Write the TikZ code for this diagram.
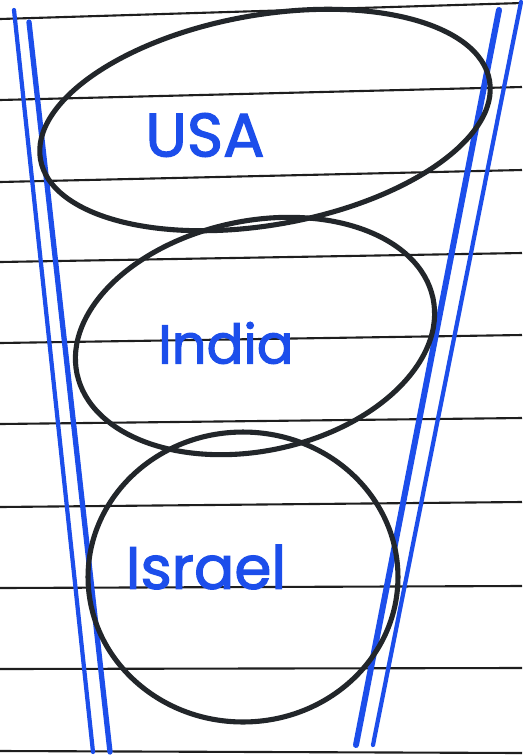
\documentclass[tikz,border=0pt]{standalone}
\usepackage{fontspec}
\newfontfamily\hand[FakeBold=2]{Poppins}
\usetikzlibrary{shapes.geometric}
\definecolor{ink}{HTML}{1C4EEB}
\definecolor{rulecol}{HTML}{1E1E1E}
\definecolor{pen}{HTML}{22262A}
\begin{document}
\begin{tikzpicture}[x=0.02cm,y=-0.02cm,
  ruled/.style={draw=rulecol, line width=1.2pt},
  blueline/.style={draw=ink, line cap=round},
  bubble/.style={draw=pen, line width=2.9pt, ellipse, inner sep=0pt},
  lbl/.style={text=ink, inner sep=0pt, font=\hand\fontsize{#1}{#1}\selectfont}
]
\fill[white] (0,0) rectangle (522,755);
\useasboundingbox (0,0) rectangle (522,755);
% ruled lines
\foreach \yl/\yr [count=\i] in {19/3,100/87,182/170,262/253,343/335,424/418,507/502,588/586,669/668,751/753}{
  \coordinate (rl\i) at (0,\yl);
  \coordinate (rr\i) at (522,\yr);
  \draw[ruled] (rl\i) -- (rr\i);
}
% blue funnel lines
\coordinate (lo1) at (14,10);  \coordinate (lo2) at (93,752);
\coordinate (li1) at (29,22);  \coordinate (li2) at (110,752);
\coordinate (ri1) at (499,10); \coordinate (ri2) at (356,745);
\coordinate (ro1) at (521,2);  \coordinate (ro2) at (373,745);
\draw[blueline, line width=2.4pt] (lo1) -- (lo2);
\draw[blueline, line width=3pt] (li1) -- (li2);
\draw[blueline, line width=3.4pt] (ri1) -- (ri2);
\draw[blueline, line width=2.4pt] (ro1) -- (ro2);
% ellipses
\node[bubble, minimum width=9.12cm, minimum height=4.2cm, rotate=10] (usa) at (265,120) {};
\node[bubble, minimum width=7.28cm, minimum height=4.6cm, rotate=12] (india) at (255,336) {};
\node[bubble, minimum width=6.2cm, minimum height=5.8cm] (israel) at (243,577) {};
% labels
\node[lbl=35] (tusa) at (205,135) {USA};
\node[lbl=31] (tindia) at (226,343) {India};
\node[lbl=34] (tisrael) at (206,567) {Israel};
\end{tikzpicture}
\end{document}
